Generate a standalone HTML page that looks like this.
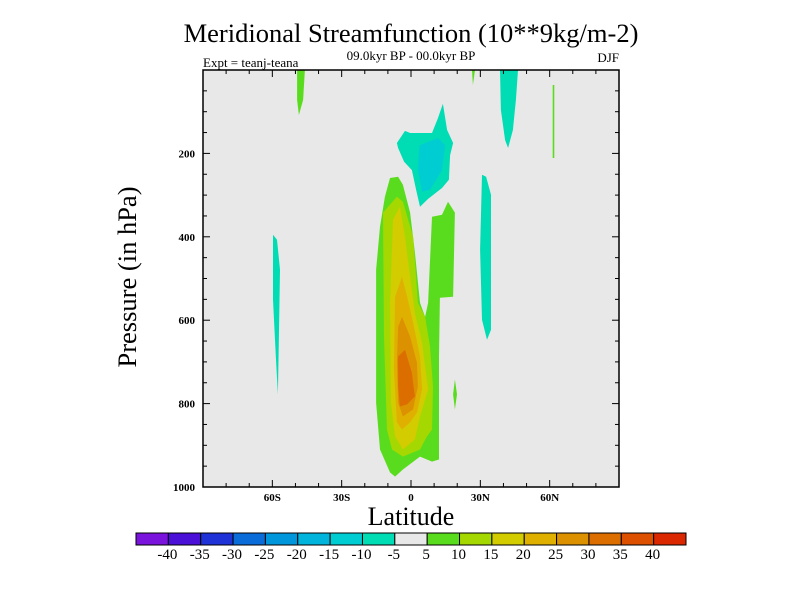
<!DOCTYPE html>
<html><head><meta charset="utf-8"><style>
html,body{margin:0;padding:0;background:#fff;}
svg{display:block;font-family:"Liberation Serif",serif;}
</style></head><body>
<svg id="chart" width="800" height="600" viewBox="0 0 800 600">
<text x="411" y="42" font-size="26.5" text-anchor="middle">Meridional Streamfunction (10**9kg/m-2)</text>
<text x="411" y="60" font-size="13" text-anchor="middle">09.0kyr BP - 00.0kyr BP</text>
<text x="203" y="67" font-size="13">Expt = teanj-teana</text>
<text x="619" y="62" font-size="13" text-anchor="end">DJF</text>
<text transform="translate(136,277) rotate(-90)" font-size="26.5" text-anchor="middle">Pressure (in hPa)</text>
<text x="411" y="525" font-size="26" text-anchor="middle">Latitude</text>
<rect x="203" y="70" width="416" height="417" fill="#e8e8e8"/>
<g id="contours"></g>
<g id="axes"></g>
<g id="colorbar"></g>
</svg>
<script>
const xTicks=[-60,-30,0,30,60];
const xTickLabels=["60S","30S","0","30N","60N"];
const yTicks=[200,400,600,800,1000];
const cbLabels=["-40","-35","-30","-25","-20","-15","-10","-5","5","10","15","20","25","30","35","40"];
const cbColors=["#7a14dc","#4a10d8","#1e32d8","#0a6cd8","#0096dc","#00b4dc","#00cdd2","#00dcb4","#e8e8e8","#5adc1e","#a5d800","#d2cc00","#e0b000","#dc9200","#dc6e00","#dc5000","#dc2800"];
// contour polygons: [lat, pressure] pairs, with level colour index
const shapeLevels=[7,9,7,6,7,7,9,9,9,9,10,11,12,13,14];
const shapes=[
[[-6.1,175],[-2.6,146],[-0.4,151],[9.1,151],[11.7,115],[13.8,81],[15.6,144],[18.2,175],[16.9,204],[16.4,263],[13.4,283],[7.4,309],[3.9,328],[2.2,287],[0.4,240],[-3,220],[-5.6,187]],
[[-49.3,0],[-45.9,0],[-46.7,72],[-48.5,108],[-49.3,72]],
[[38.5,0],[46.3,0],[45.4,72],[44.1,144],[42,187],[40.7,168],[38.9,96]],
[[3.9,180],[11.7,163],[14.7,180],[13.4,240],[8.2,287],[4.8,292],[3,240],[3.5,192]],
[[30.7,251],[32.5,256],[34.6,299],[34.6,623],[32.9,647],[30.7,599],[29.9,431]],
[[-59.7,395],[-58,407],[-56.7,479],[-57.1,623],[-57.6,778],[-58.4,695],[-59.7,551]],
[[26.4,0],[27.7,0],[26.8,36]],
[[61.3,36],[62,36],[62,211],[61.3,211]],
[[19,742],[19.9,778],[19,814],[18.2,778]],
[[-9.1,259],[-5.6,256],[-3.5,275],[-0.4,342],[1.7,438],[3.9,558],[6.1,592],[7.4,558],[9.1,352],[13.4,347],[16,316],[19,342],[18.2,544],[12.5,546],[12.1,687],[12.1,934],[9.1,939],[3.9,927],[-3.5,958],[-6.9,975],[-9.1,965],[-13.4,910],[-15.1,798],[-15.1,479],[-13.4,376],[-11.3,304]],
[[-12.1,342],[-6.1,304],[-3.5,316],[0.9,400],[3,558],[6.1,592],[8.2,663],[9.5,759],[9.1,862],[6.9,879],[3.9,910],[-3.5,927],[-8.2,910],[-10.4,862],[-11.7,639]],
[[-7.8,359],[-4.8,328],[-2.6,400],[-0.4,496],[1.7,582],[4.8,654],[7.4,766],[3.9,831],[1.7,886],[-3.5,910],[-6.9,879],[-8.7,798],[-9.1,558]],
[[-6.9,544],[-3.9,496],[-1.7,544],[0.9,606],[3.9,687],[4.8,766],[2.6,821],[-0.4,845],[-3.9,862],[-6.1,845],[-7.4,719]],
[[-5.6,616],[-3.9,592],[-0.4,639],[2.6,702],[3,759],[0.9,814],[-3.5,831],[-5.6,798],[-6.1,702]],
[[-5.6,687],[-2.6,671],[0.4,726],[1.7,783],[-1.7,802],[-4.8,807],[-5.6,759]]
];
const NS="http://www.w3.org/2000/svg";
const X0=203,X1=619,Y0=70,Y1=487;
function xs(lat){return X0+(lat+90)/180*(X1-X0);}
function ys(p){return Y0+p/1000*(Y1-Y0);}
function mk(tag,attrs,parent){const e=document.createElementNS(NS,tag);for(const k in attrs)e.setAttribute(k,attrs[k]);parent.appendChild(e);return e;}
const cg=document.getElementById('contours');
shapes.forEach((s,i)=>{
  const pts=s.map(q=>xs(q[0]).toFixed(1)+","+ys(q[1]).toFixed(1)).join(" ");
  const el=mk('polygon',{points:pts,fill:cbColors[shapeLevels[i]]},cg);
  
  
});
const ag=document.getElementById('axes');
const frame=mk('rect',{x:X0,y:Y0,width:X1-X0,height:Y1-Y0,fill:'none',stroke:'#000','stroke-width':1.5},ag);


for(let lat=-80;lat<=80;lat+=10){
  const x=xs(lat),major=lat%30===0,len=major?7:4;
  mk('line',{x1:x,y1:Y1,x2:x,y2:Y1-len,stroke:'#000'},ag);
  mk('line',{x1:x,y1:Y0,x2:x,y2:Y0+len,stroke:'#000'},ag);
}
xTicks.forEach((v,i)=>{
  const t=mk('text',{x:xs(v),y:Y1+14,'font-size':11,'font-weight':'bold','text-anchor':'middle'},ag);
  t.textContent=xTickLabels[i];
  
  
});
for(let p=50;p<1000;p+=50){
  const y=ys(p),major=p%200===0,len=major?7:4;
  mk('line',{x1:X0,y1:y,x2:X0+len,y2:y,stroke:'#000'},ag);
  mk('line',{x1:X1,y1:y,x2:X1-len,y2:y,stroke:'#000'},ag);
}
yTicks.forEach(v=>{
  const t=mk('text',{x:X0-8,y:ys(v)+4,'font-size':11,'font-weight':'bold','text-anchor':'end'},ag);
  t.textContent=v;
  
  
});
const bg=document.getElementById('colorbar');
const CB0=136,CB1=686,CBY=533,CBH=12,bw=(CB1-CB0)/cbColors.length;
cbColors.forEach((c,i)=>{
  const r=mk('rect',{x:CB0+i*bw,y:CBY,width:bw,height:CBH,fill:c,stroke:'#000','stroke-width':1},bg);
  
  
});
cbLabels.forEach((l,i)=>{
  const t=mk('text',{x:CB0+(i+1)*bw-1,y:CBY+CBH+14,'font-size':15,'text-anchor':'middle'},bg);
  t.textContent=l;
  
  
});
</script>
</body></html>
